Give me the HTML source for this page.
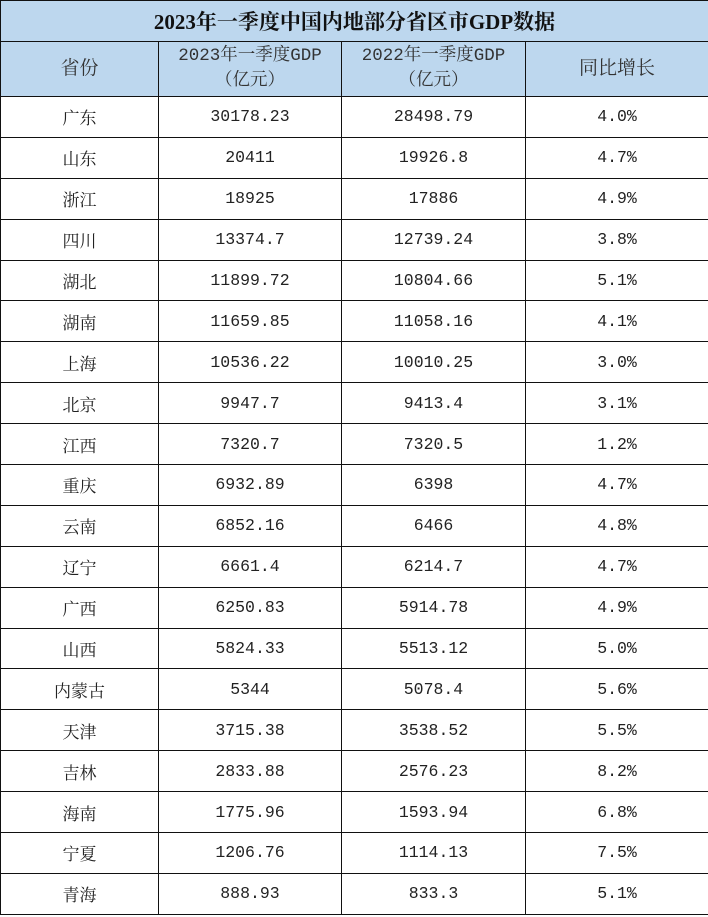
<!DOCTYPE html>
<html><head><meta charset="utf-8"><style>
*{margin:0;padding:0;box-sizing:border-box}
body{width:708px;height:917px;background:#fff;overflow:hidden;font-family:"Liberation Mono","Noto Serif CJK SC",monospace;color:#222}
table{position:absolute;left:0;top:0;border-collapse:collapse;table-layout:fixed;width:708px}
td{border:1px solid #111;text-align:center;font-size:16.5px;height:40.9px;padding:0}
.title td{background:#bdd7ee;height:41px;font-family:"Liberation Serif","Noto Serif CJK SC",serif;font-weight:bold;font-size:21px;color:#111}
.head td{background:#bdd7ee;height:55px;font-family:"Liberation Mono","Noto Serif CJK SC",monospace;font-size:17.5px;line-height:25px;color:#333}
.head td.cn{font-size:19px}
.prov{font-family:"Liberation Serif","Noto Serif CJK SC",serif;font-size:17px}
</style></head><body>
<table>
<colgroup><col style="width:158px"><col style="width:183px"><col style="width:184px"><col style="width:183px"></colgroup>
<tr class="title"><td colspan="4">2023年一季度中国内地部分省区市GDP数据</td></tr>
<tr class="head">
<td class="cn">省份</td>
<td>2023年一季度GDP<br>（亿元）</td>
<td>2022年一季度GDP<br>（亿元）</td>
<td class="cn">同比增长</td>
</tr>
<tbody id="body"></tbody>
</table>
<script>
const provinces=["广东","山东","浙江","四川","湖北","湖南","上海","北京","江西","重庆","云南","辽宁","广西","山西","内蒙古","天津","吉林","海南","宁夏","青海"];
const gdp2023=["30178.23","20411","18925","13374.7","11899.72","11659.85","10536.22","9947.7","7320.7","6932.89","6852.16","6661.4","6250.83","5824.33","5344","3715.38","2833.88","1775.96","1206.76","888.93"];
const gdp2022=["28498.79","19926.8","17886","12739.24","10804.66","11058.16","10010.25","9413.4","7320.5","6398","6466","6214.7","5914.78","5513.12","5078.4","3538.52","2576.23","1593.94","1114.13","833.3"];
const growth=["4.0%","4.7%","4.9%","3.8%","5.1%","4.1%","3.0%","3.1%","1.2%","4.7%","4.8%","4.7%","4.9%","5.0%","5.6%","5.5%","8.2%","6.8%","7.5%","5.1%"];
const tb=document.getElementById('body');
provinces.forEach((p,i)=>{
  const tr=document.createElement('tr');
  
  
  [p,gdp2023[i],gdp2022[i],growth[i]].forEach((v,j)=>{
    const td=document.createElement('td');
    
    
    if(j===0)td.className='prov';
    td.textContent=v;
    tr.appendChild(td);
  });
  tb.appendChild(tr);
});
</script>
</body></html>
